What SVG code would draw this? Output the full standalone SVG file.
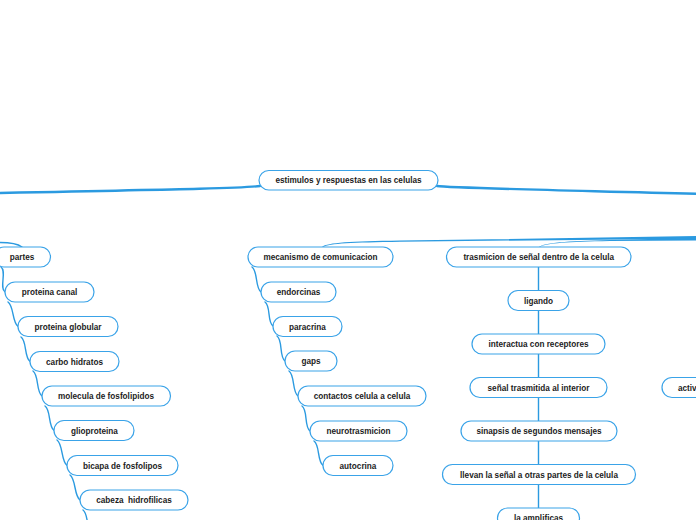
<svg xmlns="http://www.w3.org/2000/svg" width="696" height="520" viewBox="0 0 696 520">
<defs>
<style>
.n rect{fill:#ffffff;stroke:#3aa3e8;stroke-width:1.2}
.n text{font-family:"Liberation Sans",Arial,sans-serif;font-weight:bold;font-size:8.2px;fill:#1c1c1c;text-anchor:middle}
.c path{fill:none;stroke:#2b9ae0;stroke-width:1.4;stroke-linecap:round}
.c path.t{fill:#2b9ae0;stroke:none}
.c path.m{stroke-width:2.4}
</style>
</defs>
<rect x="0" y="0" width="696" height="520" fill="#ffffff"/>
<g id="connectors" class="c">
<path class="m" d="M260,186 C245,188 200,189 0,193"/>
<path class="m" d="M437,186 C450,188 530,189.5 696,193.8"/>
<path d="M0,242.5 C10,242.5 18,244 22,247"/>
<path class="t" d="M322,247 C328,242.5 350,241.5 400,240.6 L696,236 L696,238.8 L400,241.7 C352,242.5 330,243.3 322.8,247 Z"/>
<path class="t" d="M539,247 C545,242.6 565,241.2 610,240 L696,237.8 L696,240.4 L610,241.1 C567,242 547,243 539.8,247 Z"/>
<path d="M1,267 C7,271 -1,288 5,292"/>
<path d="M8,302 C14,306 12,322 18,326.5"/>
<path d="M21,337 C27,341 24,357 30,361.5"/>
<path d="M33,371 C39,375 36,392 42,396"/>
<path d="M45,406 C51,410 48,426 54,430.5"/>
<path d="M57,440 C63,444 61,461 67,465.5"/>
<path d="M70,475 C76,479 74,496 80,500"/>
<path d="M83,510 C89,514 86,531 92,535"/>
<path d="M252,267 C258,271 255,288 261,292"/>
<path d="M265,302 C271,306 267,322 273,326"/>
<path d="M277,336 C283,340 279,357 285,361"/>
<path d="M289,371 C295,375 292,392 298,396"/>
<path d="M302,406 C308,410 304,427 310,431"/>
<path d="M314,441 C320,445 317,461 323,465.5"/>
<path d="M538.5,267 L538.5,290"/>
<path d="M538.5,310 L538.5,334"/>
<path d="M538.5,354 L538.5,377"/>
<path d="M538.5,397 L538.5,421"/>
<path d="M538.5,441 L538.5,464"/>
<path d="M538.5,484 L538.5,508"/>
</g>
<g id="root" class="n"><rect x="259" y="170.5" width="179" height="19.5" rx="9.75"/><text x="348.5" y="183.2">estimulos y respuestas en las celulas</text></g>
<g id="partes" class="n"><rect x="-6" y="247" width="56.5" height="20" rx="10"/><text x="22" y="260">partes</text></g>
<g id="proteina-canal" class="n"><rect x="5" y="282" width="89" height="20" rx="10"/><text x="49.5" y="295">proteina canal</text></g>
<g id="proteina-globular" class="n"><rect x="18" y="316.5" width="100" height="20" rx="10"/><text x="68" y="329.5">proteina globular</text></g>
<g id="carbo-hidratos" class="n"><rect x="30" y="351.5" width="89" height="20" rx="10"/><text x="74.5" y="364.5">carbo hidratos</text></g>
<g id="molecula-fosfolipidos" class="n"><rect x="42" y="386" width="128.5" height="20" rx="10"/><text x="106" y="399">molecula de fosfolipidos</text></g>
<g id="glioproteina" class="n"><rect x="54" y="420.5" width="80" height="20" rx="10"/><text x="94.5" y="433.5">glioproteina</text></g>
<g id="bicapa-fosfolipos" class="n"><rect x="67" y="455.5" width="111" height="20" rx="10"/><text x="122.5" y="468.5">bicapa de fosfolipos</text></g>
<g id="cabeza-hidrofilicas" class="n"><rect x="80" y="490" width="108" height="20" rx="10"/><text x="134" y="503" xml:space="preserve">cabeza  hidrofilicas</text></g>
<g id="mecanismo" class="n"><rect x="248" y="247" width="145" height="20" rx="10"/><text x="320.5" y="260">mecanismo de comunicacion</text></g>
<g id="endorcinas" class="n"><rect x="261" y="282" width="75" height="20" rx="10"/><text x="298.5" y="295">endorcinas</text></g>
<g id="paracrina" class="n"><rect x="273" y="316.5" width="69" height="20" rx="10"/><text x="307.5" y="329.5">paracrina</text></g>
<g id="gaps" class="n"><rect x="285" y="351" width="52" height="20" rx="10"/><text x="311" y="364">gaps</text></g>
<g id="contactos" class="n"><rect x="298" y="386" width="128" height="20" rx="10"/><text x="362" y="399">contactos celula a celula</text></g>
<g id="neurotrasmicion" class="n"><rect x="310" y="421" width="97" height="20" rx="10"/><text x="358.5" y="434">neurotrasmicion</text></g>
<g id="autocrina" class="n"><rect x="323" y="455.5" width="70" height="20" rx="10"/><text x="358" y="468.5">autocrina</text></g>
<g id="trasmicion" class="n"><rect x="446.5" y="247" width="184.5" height="20" rx="10"/><text x="538.7" y="260">trasmicion de señal dentro de la celula</text></g>
<g id="ligando" class="n"><rect x="508" y="290.5" width="61" height="20" rx="10"/><text x="538.5" y="303.5">ligando</text></g>
<g id="interactua" class="n"><rect x="472" y="334" width="133" height="20" rx="10"/><text x="538.5" y="347">interactua con receptores</text></g>
<g id="senal-trasmitida" class="n"><rect x="470" y="377.5" width="137" height="20" rx="10"/><text x="538.5" y="390.5">señal trasmitida al interior</text></g>
<g id="sinapsis" class="n"><rect x="461" y="421" width="156" height="20" rx="10"/><text x="539" y="434">sinapsis de segundos mensajes</text></g>
<g id="llevan" class="n"><rect x="442.5" y="464.5" width="193" height="20" rx="10"/><text x="539" y="477.5">llevan la señal a otras partes de la celula</text></g>
<g id="amplificas" class="n"><rect x="497.5" y="508" width="82" height="20" rx="10"/><text x="538.5" y="521">la amplificas</text></g>
<g id="activ" class="n"><rect x="662" y="377.5" width="90" height="20" rx="10"/><text x="678" y="390.5" style="text-anchor:start">activ</text></g>
</svg>
